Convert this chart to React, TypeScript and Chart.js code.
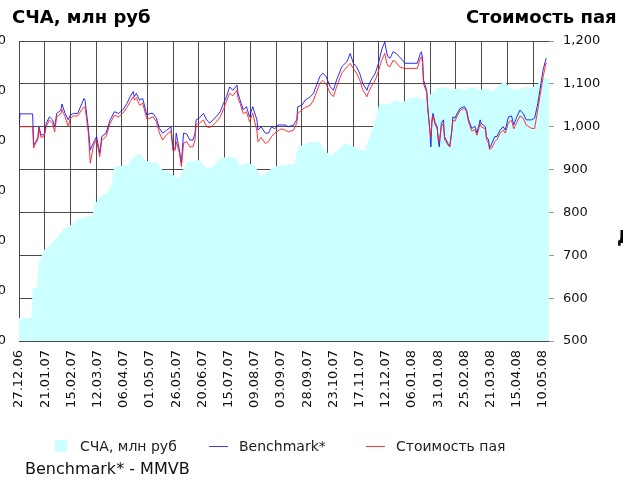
import React, { useEffect, useRef } from "react";
import { Chart, registerables } from "chart.js";

Chart.register(...registerables);

// X axis: calendar days counted from 27.12.06
const tickDays = [0, 25, 50, 75, 100, 125, 150, 175, 200, 225, 250, 275, 300, 325, 350, 375, 400, 425, 450, 475, 500];
const tickLabels = [
  "27.12.06", "21.01.07", "15.02.07", "12.03.07", "06.04.07", "01.05.07", "26.05.07",
  "20.06.07", "15.07.07", "09.08.07", "03.09.07", "28.09.07", "23.10.07", "17.11.07",
  "12.12.07", "06.01.08", "31.01.08", "25.02.08", "21.03.08", "15.04.08", "10.05.08",
];

// Benchmark* and Стоимость пая (right axis)
const lineDays = [
  0, 1, 13, 14, 16, 18, 19, 21, 24, 26,
  29, 32, 34, 36, 40, 41, 44, 47, 49, 52,
  56, 60, 62, 63, 66, 68, 71, 74, 77, 79,
  83, 87, 91, 95, 99, 103, 106, 109, 110, 112,
  115, 118, 122, 125, 128, 131, 134, 137, 141, 145,
  147, 149, 150, 153, 155, 157, 160, 163, 166, 168,
  169, 172, 176, 179, 182, 185, 188, 192, 195, 198,
  201, 204, 208, 209, 211, 214, 217, 220, 223, 227,
  228, 231, 235, 238, 241, 244, 247, 250, 254, 257,
  262, 265, 266, 270, 273, 278, 281, 287, 290, 293,
  297, 300, 303, 308, 313, 316, 319, 322, 325, 328,
  332, 333, 336, 340, 343, 346, 349, 351, 352, 354,
  357, 360, 363, 367, 368, 380, 383, 384, 385, 386,
  389, 390, 392, 393, 394, 395, 397, 399, 400, 401,
  403, 405, 406, 410, 411, 413, 414, 416, 418, 421,
  425, 427, 429, 432, 435, 437, 440, 441, 445, 446,
  448, 449, 451, 454, 456, 459, 462, 464, 467, 470,
  472, 475, 478, 481, 484, 489, 492, 495, 497, 500,
  503,
];
const benchmark = [
  1000, 1030, 1030, 957, 965, 975, 1000, 981, 981, 1008,
  1023, 1016, 1000, 1031, 1039, 1053, 1031, 1016, 1027, 1031,
  1031, 1054, 1066, 1062, 1000, 946, 962, 977, 939, 977,
  985, 1016, 1035, 1031, 1039, 1054, 1070, 1082, 1070, 1078,
  1062, 1066, 1027, 1031, 1031, 1020, 996, 985, 992, 1000,
  946, 950, 985, 946, 915, 985, 983, 969, 969, 985,
  1016, 1020, 1031, 1016, 1008, 1016, 1023, 1035, 1054, 1070,
  1093, 1085, 1097, 1078, 1062, 1039, 1047, 1023, 1047, 1016,
  992, 1000, 985, 985, 1000, 995, 1004, 1004, 1004, 1000,
  1004, 1016, 1047, 1050, 1062, 1070, 1078, 1117, 1125, 1117,
  1093, 1085, 1109, 1140, 1152, 1171, 1148, 1140, 1125, 1101,
  1085, 1093, 1109, 1125, 1148, 1179, 1198, 1171, 1163, 1160,
  1175, 1171, 1163, 1152, 1148, 1148, 1171, 1175, 1160, 1109,
  1085, 1047, 992, 953, 1016, 1031, 1010, 1000, 969, 953,
  1008, 1016, 977, 957, 953, 992, 1023, 1020, 1031, 1043,
  1047, 1039, 1016, 996, 1001, 985, 1016, 1008, 1000, 977,
  969, 950, 960, 977, 977, 992, 1000, 992, 1023, 1025,
  1004, 1023, 1039, 1031, 1016, 1016, 1020, 1054, 1085, 1132,
  1160,
];
const navPerShare = [
  1000, 1000, 1000, 950, 962, 970, 995, 975, 977, 1000,
  1016, 1008, 988, 1023, 1031, 1040, 1023, 1000, 1020, 1025,
  1025, 1040, 1047, 1045, 990, 915, 955, 970, 930, 968,
  977, 1008, 1027, 1023, 1031, 1045, 1058, 1070, 1062, 1068,
  1050, 1055, 1018, 1020, 1023, 1012, 985, 969, 982, 990,
  943, 945, 965, 940, 907, 962, 965, 953, 953, 970,
  1005, 1008, 1016, 1000, 998, 1003, 1010, 1023, 1040, 1060,
  1078, 1072, 1085, 1066, 1054, 1030, 1035, 1012, 1032, 990,
  965, 975, 961, 965, 977, 985, 990, 995, 992, 988,
  992, 1008, 1031, 1039, 1045, 1050, 1062, 1101, 1108, 1100,
  1078, 1070, 1093, 1125, 1140, 1148, 1136, 1125, 1110, 1086,
  1070, 1078, 1093, 1109, 1130, 1155, 1171, 1148, 1142, 1140,
  1155, 1150, 1140, 1136, 1136, 1136, 1160, 1163, 1150, 1100,
  1080, 1040, 992, 975, 1010, 1025, 1005, 995, 975, 965,
  1000, 1008, 970, 955, 953, 990, 1015, 1013, 1025, 1038,
  1043, 1035, 1010, 990, 993, 980, 1008, 1000, 995, 970,
  962, 947, 950, 965, 970, 985, 992, 985, 1010, 1015,
  995, 1010, 1025, 1020, 1004, 996, 996, 1040, 1070, 1115,
  1150,
];

// СЧА, млн руб (left axis)
const aumDays = [
  0, 12, 13, 17, 19, 22, 25, 29, 34, 37,
  42, 48, 56, 63, 70, 72, 77, 85, 88, 91,
  96, 104, 109, 115, 120, 125, 132, 137, 144, 149,
  153, 156, 160, 168, 172, 179, 184, 192, 199, 207,
  211, 217, 225, 230, 235, 239, 246, 254, 263, 266,
  271, 278, 287, 292, 297, 304, 311, 318, 325, 330,
  337, 341, 344, 352, 359, 365, 373, 381, 387, 392,
  399, 406, 413, 419, 425, 432, 440, 446, 452, 459,
  464, 468, 476, 483, 489, 495, 499, 503, 506,
];
const aum = [
  46, 46, 106, 106, 158, 172, 186, 190, 202, 208,
  224, 230, 242, 248, 250, 272, 288, 298, 312, 348,
  350, 352, 366, 376, 362, 358, 356, 342, 338, 328,
  326, 340, 358, 360, 362, 346, 348, 366, 368, 366,
  350, 356, 352, 330, 336, 342, 350, 352, 354, 388,
  392, 398, 398, 382, 370, 382, 396, 390, 382, 382,
  422, 450, 476, 472, 482, 476, 486, 488, 482, 492,
  506, 508, 502, 506, 502, 508, 502, 506, 498, 514,
  518, 506, 502, 508, 506, 514, 526, 526, 526,
];

const rightTicks = [500, 600, 700, 800, 900, 1000, 1100, 1200];
const leftTicks = [0, 100, 200, 300, 400, 500, 600];

const FONT = "'DejaVu Sans', sans-serif";

export default function App() {
  const ref = useRef<HTMLCanvasElement | null>(null);

  useEffect(() => {
    if (!ref.current) return;
    const chart = new Chart(ref.current, {
      type: "line",
      data: {
        datasets: [
          {
            label: "Стоимость пая",
            data: lineDays.map((d, i) => ({ x: d, y: navPerShare[i] })),
            xAxisID: "x",
            yAxisID: "y",
            borderColor: "rgba(255,30,30,0.9)",
            borderWidth: 1,
            pointRadius: 0,
            fill: false,
            tension: 0,
            order: 0,
          },
          {
            label: "Benchmark*",
            data: lineDays.map((d, i) => ({ x: d, y: benchmark[i] })),
            xAxisID: "x",
            yAxisID: "y",
            borderColor: "rgba(20,20,255,0.9)",
            borderWidth: 1,
            pointRadius: 0,
            fill: false,
            tension: 0,
            order: 1,
          },
          {
            label: "СЧА, млн руб",
            data: aumDays.map((d, i) => ({ x: d, y: aum[i] })),
            xAxisID: "x",
            yAxisID: "y1",
            backgroundColor: "#ccffff",
            borderColor: "#ccffff",
            borderWidth: 0,
            pointRadius: 0,
            fill: "origin",
            tension: 0,
            order: 2,
          },
        ],
      },
      options: {
        responsive: false,
        animation: false,
        devicePixelRatio: 1,
        layout: { padding: { top: 41, left: 0, right: 0, bottom: 0 } },
        plugins: { legend: { display: false }, tooltip: { enabled: false } },
        scales: {
          x: {
            type: "linear",
            position: "bottom",
            min: 0,
            max: 505.7,
            grid: { display: false, drawTicks: false },
            border: { display: false },
            afterBuildTicks: (s: any) => {
              s.ticks = tickDays.map((v) => ({ value: v }));
            },
            afterFit: (s: any) => {
              s.height = 143;
            },
            ticks: {
              autoSkip: false,
              minRotation: 90,
              maxRotation: 90,
              padding: 9,
              color: "#111",
              font: { family: FONT, size: 13 },
              callback: (_v: any, i: number) => tickLabels[i],
            },
          },
          xg: {
            type: "linear",
            position: "top",
            min: 0,
            max: 20.62,
            afterFit: (s: any) => {
              s.height = 0;
            },
            ticks: { display: false, stepSize: 1, includeBounds: false },
            grid: { color: "#4a4a4a", lineWidth: 1, drawTicks: false },
            border: { display: false },
          },
          y: {
            type: "linear",
            position: "right",
            min: 500,
            max: 1200,
            afterBuildTicks: (s: any) => {
              s.ticks = rightTicks.map((v) => ({ value: v }));
            },
            afterFit: (s: any) => {
              s.width = 74;
            },
            ticks: {
              padding: 9,
              color: "#111",
              font: { family: FONT, size: 13 },
              callback: (v: any) => Number(v).toLocaleString("en-US"),
            },
            grid: { color: "#4a4a4a", lineWidth: 1, tickColor: "#999", tickLength: 5 },
            border: { display: false },
          },
          y1: {
            type: "linear",
            position: "left",
            min: 0,
            max: 600,
            afterBuildTicks: (s: any) => {
              s.ticks = leftTicks.map((v) => ({ value: v }));
            },
            afterFit: (s: any) => {
              s.width = 59;
            },
            ticks: {
              padding: 13,
              color: "#111",
              font: { family: FONT, size: 13 },
            },
            grid: { display: false, drawTicks: false },
            border: { display: false },
          },
        },
      },
    });
    return () => chart.destroy();
  }, []);

  const titleStyle: React.CSSProperties = {
    position: "absolute",
    top: 7.6,
    fontFamily: FONT,
    fontWeight: "bold",
    fontSize: 18,
    lineHeight: "18px",
    color: "#000",
    whiteSpace: "nowrap",
  };
  const legendText: React.CSSProperties = {
    position: "absolute",
    top: 439,
    fontFamily: FONT,
    fontSize: 14,
    lineHeight: "14px",
    color: "#222",
    whiteSpace: "nowrap",
  };

  return (
    <div
      style={{
        position: "fixed",
        left: 0,
        top: 0,
        width: 623,
        height: 484,
        overflow: "hidden",
        background: "#fff",
      }}
    >
      <div style={{ position: "absolute", left: -40, top: 0, width: 663, height: 484 }}>
        <canvas ref={ref} width={663} height={484} style={{ display: "block" }} />
      </div>
      <div style={{ ...titleStyle, left: 12 }}>СЧА, млн руб</div>
      <div style={{ ...titleStyle, left: 466 }}>Стоимость пая</div>
      <div style={{ ...titleStyle, left: 617, top: 228 }}>Д</div>

      <div style={{ position: "absolute", left: 55, top: 440, width: 12, height: 12, background: "#ccffff" }} />
      <div style={{ ...legendText, left: 80 }}>СЧА, млн руб</div>
      <div style={{ position: "absolute", left: 209, top: 446, width: 19, height: 1, background: "#3a3aff" }} />
      <div style={{ ...legendText, left: 239 }}>Benchmark*</div>
      <div style={{ position: "absolute", left: 366, top: 446, width: 19, height: 1, background: "#ff3a3a" }} />
      <div style={{ ...legendText, left: 396 }}>Стоимость пая</div>

      <div
        style={{
          position: "absolute",
          left: 25,
          top: 461,
          fontFamily: FONT,
          fontSize: 16,
          lineHeight: "16px",
          color: "#111",
          whiteSpace: "nowrap",
        }}
      >
        Benchmark* - MMVB
      </div>
    </div>
  );
}
